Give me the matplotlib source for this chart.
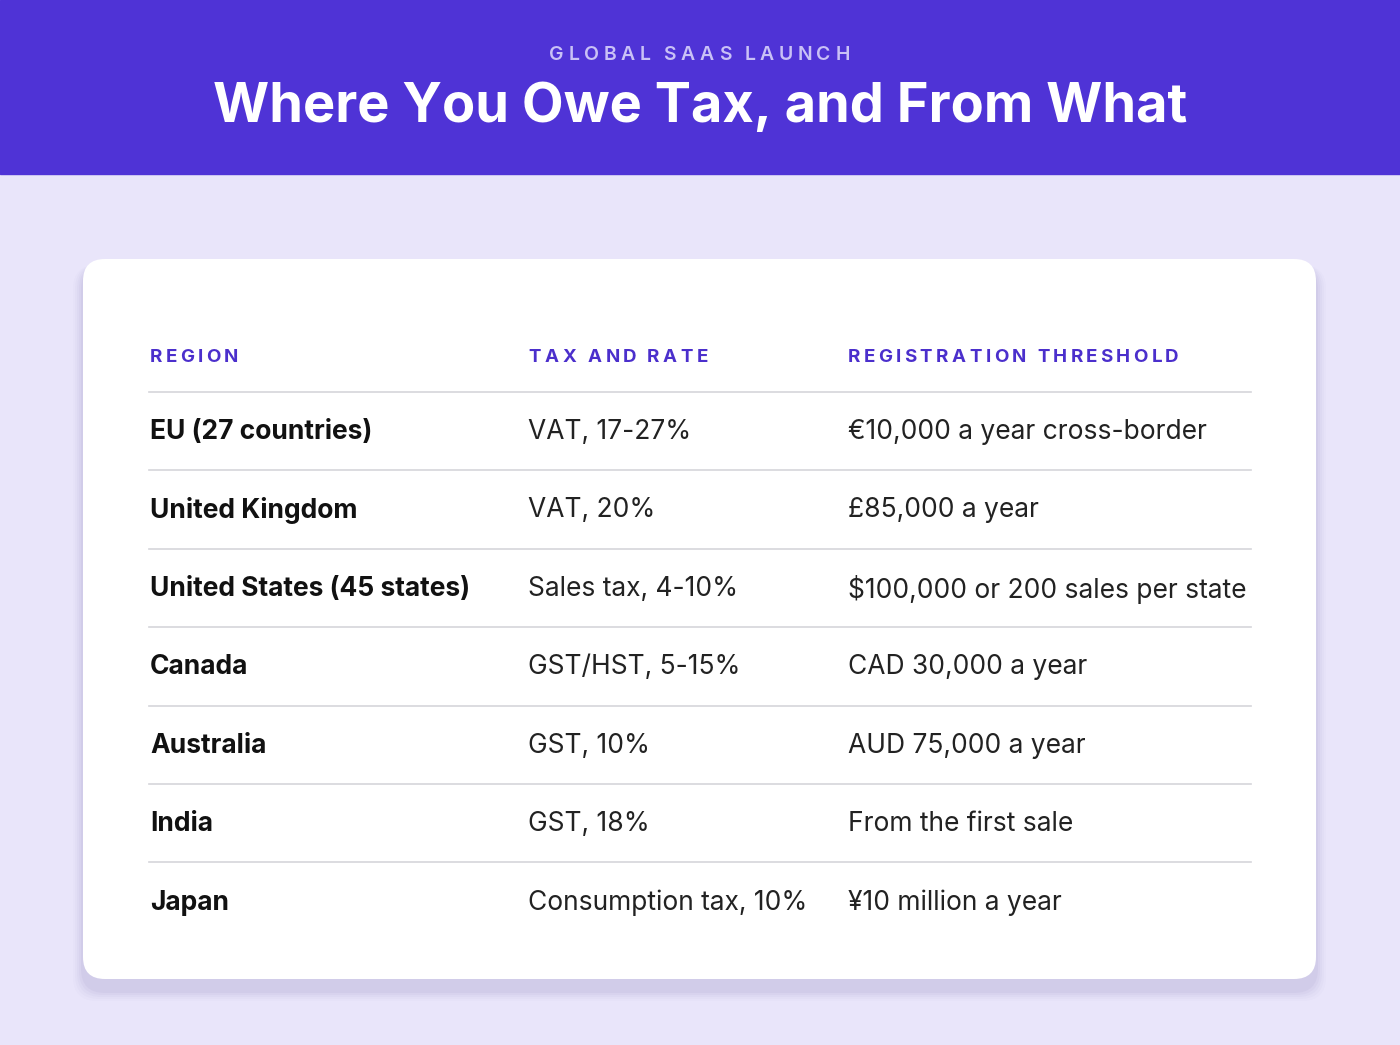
import matplotlib
matplotlib.use("Agg")
import matplotlib.pyplot as plt
from matplotlib.patches import FancyBboxPatch, Rectangle
from matplotlib.textpath import TextPath
from matplotlib.font_manager import FontProperties

kicker = "GLOBAL SAAS LAUNCH"
title = "Where You Owe Tax, and From What"
headers = ["REGION", "TAX AND RATE", "REGISTRATION THRESHOLD"]
regions = ["EU (27 countries)", "United Kingdom", "United States (45 states)", "Canada",
           "Australia", "India", "Japan"]
taxes = ["VAT, 17-27%", "VAT, 20%", "Sales tax, 4-10%", "GST/HST, 5-15%", "GST, 10%",
         "GST, 18%", "Consumption tax, 10%"]
thresholds = ["€10,000 a year cross-border", "£85,000 a year", "$100,000 or 200 sales per state",
              "CAD 30,000 a year", "AUD 75,000 a year", "From the first sale", "¥10 million a year"]

W, H = 1400, 1045
fig = plt.figure(figsize=(14, 10.45), dpi=100)
ax = fig.add_axes([0, 0, 1, 1])
ax.set_xlim(0, W); ax.set_ylim(H, 0); ax.axis("off")
fig.patch.set_facecolor("#E9E5FA")

FAM = ["Inter", "DejaVu Sans"]

def spaced(x, y, s, size, color, weight, track, ha="left"):
    fp = FontProperties(family="Inter", weight=weight, size=size)
    px = size * 100 / 72
    widths = []
    for ch in s:
        tp = TextPath((0, 0), ch if ch != " " else "n", prop=fp, size=px)
        w = tp.get_extents().width if ch != " " else px * 0.28
        adv = TextPath((0, 0), ch + "|", prop=fp, size=px).get_extents().width - \
              TextPath((0, 0), "|", prop=fp, size=px).get_extents().width if ch != " " else px * 0.28
        widths.append(adv)
    total = sum(widths) + track * (len(s) - 1)
    cx = x - total / 2 if ha == "center" else x
    for ch, w in zip(s, widths):
        ax.text(cx, y, ch, fontsize=size, color=color, fontweight=weight, family=FAM,
                va="center", ha="left")
        cx += w + track

ax.add_patch(Rectangle((0, 0), W, 174, color="#4F33D6", zorder=0))
spaced(700, 55, kicker, 14, "#C9C1F6", "semibold", 3.2, ha="center")
ax.text(700, 108, title, fontsize=39, color="white", fontweight="bold", family=FAM,
        ha="center", va="center")

for i, a in enumerate([0.035, 0.03, 0.025, 0.02, 0.015]):
    d = 4 + i * 4
    ax.add_patch(FancyBboxPatch((83 - d / 2, 259 + 6), 1233 + d, 720 + d / 2 + 6,
                 boxstyle="round,pad=0,rounding_size=24", fc="#3a2a80", ec="none", alpha=a, zorder=1))
ax.add_patch(FancyBboxPatch((83, 259), 1233, 720, boxstyle="round,pad=0,rounding_size=22",
             fc="white", ec="none", zorder=2))

cols = [150, 528, 848]
for x, h in zip(cols, headers):
    spaced(x, 357, h, 13.5, "#4B2FCC", "bold", 2.2)

ys = [432, 510, 589, 667, 746, 824, 903]
for y in [392, 470, 549, 627, 706, 784, 862]:
    ax.plot([149, 1251], [y, y], color="#D5D5DA", lw=1.2, zorder=3)
for y, r, t, th in zip(ys, regions, taxes, thresholds):
    ax.text(cols[0], y, r, fontsize=19, fontweight="bold", color="#111111", family=FAM, va="center", zorder=4)
    ax.text(cols[1], y, t, fontsize=19, color="#222222", family=FAM, va="center", zorder=4)
    ax.text(cols[2], y, th, fontsize=19, color="#222222", family=FAM, va="center", zorder=4)

fig.savefig("out.png", dpi=100, facecolor=fig.get_facecolor())
